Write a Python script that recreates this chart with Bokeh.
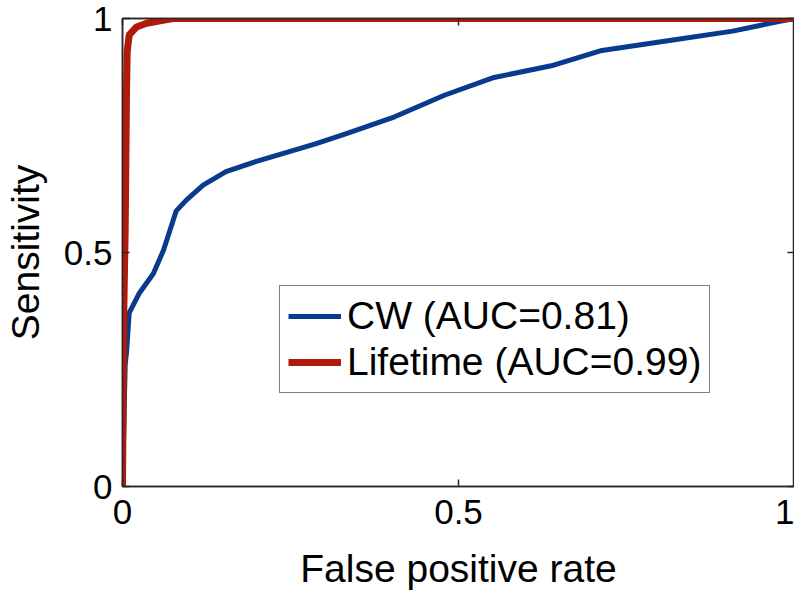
from bokeh.plotting import figure
from bokeh.models import Range1d, LinearAxis, FixedTicker, Legend, LegendItem
from bokeh.embed import file_html
from bokeh.resources import INLINE

# ---- data ----
cw_fpr = [0.0, 0.004, 0.006, 0.010, 0.025, 0.046, 0.061, 0.080, 0.095, 0.12, 0.154,
          0.198, 0.247, 0.287, 0.331, 0.405, 0.479, 0.553, 0.638, 0.711, 0.809,
          0.908, 0.978, 1.0]
cw_tpr = [0.0, 0.26, 0.287, 0.371, 0.413, 0.455, 0.505, 0.589, 0.612, 0.644, 0.673,
          0.694, 0.715, 0.732, 0.753, 0.79, 0.836, 0.874, 0.899, 0.931, 0.952,
          0.973, 0.994, 1.0]

life_fpr = [0.0, 0.002, 0.004, 0.006, 0.007, 0.010, 0.021, 0.036, 0.06, 0.075, 1.0]
life_tpr = [0.0, 0.38, 0.55, 0.85, 0.93, 0.965, 0.982, 0.99, 0.996, 1.0, 1.0]

tick_values = [0, 0.5, 1]
tick_labels = ["0", "0.5", "1"]

series_names = ["CW (AUC=0.81)", "Lifetime (AUC=0.99)"]
series_colors = ["#0A3A8E", "#B01A0B"]

FONT = "Liberation Sans"
AXIS_COLOR = "#262626"

p = figure(width=794, height=592,
           x_range=Range1d(0, 1), y_range=Range1d(0, 1),
           output_backend="svg", toolbar_location=None,
           min_border_left=114, min_border_right=0,
           min_border_top=18, min_border_bottom=0)

p.grid.visible = False
p.outline_line_color = AXIS_COLOR
p.outline_line_width = 1.5
p.background_fill_color = "white"
p.border_fill_color = "white"

overrides = {v: l for v, l in zip(tick_values, tick_labels)}
blank = {v: "" for v in tick_values}

for ax in (p.xaxis[0], p.yaxis[0]):
    ax.ticker = FixedTicker(ticks=tick_values)
    ax.major_label_overrides = overrides
    ax.minor_tick_line_color = None
    ax.major_tick_in = 7
    ax.major_tick_out = 0
    ax.axis_line_color = AXIS_COLOR
    ax.axis_line_width = 1.5
    ax.major_tick_line_color = AXIS_COLOR
    ax.major_tick_line_width = 1.5
    ax.major_label_text_font = FONT
    ax.major_label_text_font_size = "35px"
    ax.major_label_text_color = "black"
    ax.axis_label_text_font = FONT
    ax.axis_label_text_font_size = "39px"
    ax.axis_label_text_font_style = "normal"
    ax.axis_label_text_color = "black"

p.xaxis[0].axis_label = "False positive rate"
p.yaxis[0].axis_label = "Sensitivity"
p.xaxis[0].major_label_standoff = 13
p.xaxis[0].axis_label_standoff = 20
p.yaxis[0].major_label_standoff = 10
p.yaxis[0].axis_label_standoff = 14

# box axes (right / top) with inward ticks, no labels
for loc in ("right", "above"):
    ax = LinearAxis(ticker=FixedTicker(ticks=tick_values),
                    major_label_overrides=blank,
                    major_label_text_font_size="8px",
                    major_label_standoff=0,
                    minor_tick_line_color=None,
                    major_tick_in=7, major_tick_out=0,
                    axis_line_color=AXIS_COLOR, axis_line_width=1.5,
                    major_tick_line_color=AXIS_COLOR, major_tick_line_width=1.5)
    p.add_layout(ax, loc)

r_cw = p.line(cw_fpr, cw_tpr, line_color=series_colors[0], line_width=5)
r_life = p.line(life_fpr, life_tpr, line_color=series_colors[1], line_width=7)

legend = Legend(items=[LegendItem(label=series_names[0], renderers=[r_cw]),
                       LegendItem(label=series_names[1], renderers=[r_life])],
                location=(157, 93),
                label_text_font=FONT, label_text_font_size="39px",
                label_text_color="black",
                glyph_width=53, glyph_height=40,
                label_standoff=6, spacing=2, padding=8, margin=0,
                border_line_color="black", border_line_width=1.5,
                background_fill_color="white", background_fill_alpha=1.0)
p.add_layout(legend)

open("out.html", "w").write(file_html(p, INLINE))
